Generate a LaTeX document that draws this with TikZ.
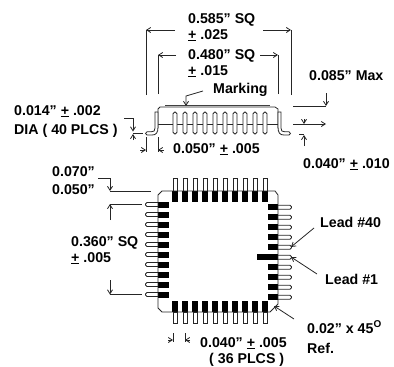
\documentclass[tikz,border=0pt]{standalone}
\usepackage{fontspec}
\setmainfont{Liberation Sans}
\usetikzlibrary{arrows.meta}
\tikzset{
  lbl/.style={anchor=base west,inner sep=0pt,font=\fontsize{14.2}{16}\selectfont\bfseries},
  ln/.style={line width=0.8pt,color=black!85},
  dim/.style={ln,-{Straight Barb[length=4pt,width=5pt]}},
  leadw/.style={line width=0.8pt,draw=black!85,fill=white},
  pad/.style={fill=black},
}
\newcommand{\pl}{\underline{+}}
\begin{document}
\begin{tikzpicture}[x=1pt,y=-1pt]
\useasboundingbox (0,0) rectangle (394,367);
% text
\node[lbl] (t1) at (188,23) {0.585” SQ};
\node[lbl] (t2) at (188,39) {\pl{} .025};
\node[lbl] (t3) at (188,59) {0.480” SQ};
\node[lbl] (t4) at (188,75) {\pl{} .015};
\node[lbl] (t5) at (213,93) {Marking};
\node[lbl] (t6) at (309,80) {0.085” Max};
\node[lbl] (t7) at (14,115) {0.014” \pl{} .002};
\node[lbl] (t8) at (14,134) {DIA ( 40 PLCS )};
\node[lbl] (t9) at (173,153) {0.050” \pl{} .005};
\node[lbl] (t10) at (303,168) {0.040” \pl{} .010};
\node[lbl] (t11) at (52,176) {0.070”};
\node[lbl] (t12) at (52,194) {0.050”};
\node[lbl] (t13) at (71,246) {0.360” SQ};
\node[lbl] (t14) at (71,262) {\pl{} .005};
\node[lbl] (t15) at (320,227) {Lead \#40};
\node[lbl] (t16) at (325,284) {Lead \#1};
\node[lbl] (t17) at (307,333) {0.02” x 45\textsuperscript{O}};
\node[lbl] (t18) at (307,353) {Ref.};
\node[lbl] (t19) at (200,347) {0.040” \pl{} .005};
\node[lbl] (t20) at (209,363.5) {( 36 PLCS )};
% free ends of the leaders
\coordinate (mk) at (203,91);
\coordinate (l40) at (314,228);
\coordinate (l1) at (317,274);
\coordinate (rf) at (294,319);
% side view
\draw[ln] (158,124) -- (278,124);
\draw[line width=1.3pt,black!75] (165,105.5) -- (270,105.5);
\draw[ln] (158,128) -- (158,109) -- (160,107) -- (275,107) -- (278,109) -- (278,128);
\foreach \x in {175,185,...,265} {
  \draw[leadw,rounded corners=1.8pt] (\x-2,112) -- (\x+2,112) -- (\x+2,134) -- (\x-2,134) -- cycle;
}
% side leads
\draw[leadw] (155,112) -- (158,112) -- (158,127) .. controls (158,133) and (156,135) .. (152,135) -- (147,135)
  .. controls (145,135) and (145,131.8) .. (147,131.8) -- (151,131.8) .. controls (154,131.8) and (155,131) .. (155,128) -- cycle;
\draw[leadw] (281,112) -- (278,112) -- (278,127) .. controls (278,133) and (280,135) .. (284,135) -- (289,135)
  .. controls (291,135) and (291,131.8) .. (289,131.8) -- (285,131.8) .. controls (282,131.8) and (281,131) .. (281,128) -- cycle;
% side dimensions
\draw[ln] (146,95) -- (146,30);
\draw[dim] (175,30) -- (146,30);
\draw[ln] (291,95) -- (291,30);
\draw[dim] (263,30) -- (291,30);
\draw[ln] (158,94) -- (158,55);
\draw[dim] (176,55) -- (158,55);
\draw[ln] (278,94) -- (278,55);
\draw[dim] (260,55) -- (278,55);
\draw[dim] (mk) -- (186,96) -- (186,106);
\draw[ln] (293,106) -- (326,106);
\draw[dim] (326,93) -- (326,106);
\draw[dim] (293,124) -- (326,124);
\draw[dim] (304,119) -- (304,124);
\draw[dim] (304,146) -- (304,135);
\draw[ln] (299,134.5) -- (304,134.5);
\draw[dim] (124,118) -- (133,118) -- (133,131.5);
\draw[ln] (133,133) -- (143,133);
\draw[dim] (133,140) -- (133,134);
\draw[ln] (146,137) -- (146,152);
\draw[dim] (140,150) -- (146,150);
\draw[ln] (158,137) -- (158,152);
\draw[dim] (164,150) -- (158,150);
% plan view leads
\foreach \x in {175,185,...,265} {
  \draw[leadw] (\x-2,191) rectangle (\x+2,178);
  \draw[leadw] (\x-2,312) rectangle (\x+2,323);
  \fill[pad] (\x-3,191) rectangle (\x+3,202);
  \fill[pad] (\x-3,301) rectangle (\x+3,312);
}
\foreach \y in {204.5,214.5,...,294.5} {
  \draw[leadw,rounded corners=1.5pt] (158,\y-2) -- (145.5,\y-2) -- (145.5,\y+2) -- (158,\y+2);
  \fill[pad] (158,\y-3) rectangle (169,\y+3);
}
\foreach \y in {207.3,217.3,...,297.3} {
  \draw[leadw,rounded corners=1.5pt] (278,\y-2) -- (291.5,\y-2) -- (291.5,\y+2) -- (278,\y+2);
  \fill[pad] (268,\y-3) rectangle (278,\y+3);
}
\fill[pad] (257,254.3) rectangle (278,260.3);
% body outline
\draw[ln] (162,191) -- (275,191) -- (278,195) -- (278,304) -- (270,312) -- (162,312) -- (158,308) -- (158,195) -- cycle;
% plan dimensions
\draw[ln] (110,191) -- (151,191);
\draw[dim] (98,178) -- (110,178) -- (110,191);
\draw[ln] (110,204) -- (142,204);
\draw[dim] (110,220) -- (110,204);
\draw[ln] (110,294.5) -- (142,294.5);
\draw[dim] (110,280) -- (110,294.5);
\draw[dim] (l40) -- (291,247);
\draw[dim] (l1) -- (291,257);
\draw[dim] (rf) -- (274,306);
\draw[ln] (173,333) -- (173,342);
\draw[dim] (168,340) -- (173,340);
\draw[ln] (185,333) -- (185,342);
\draw[dim] (190,340) -- (185,340);
\end{tikzpicture}
\end{document}
